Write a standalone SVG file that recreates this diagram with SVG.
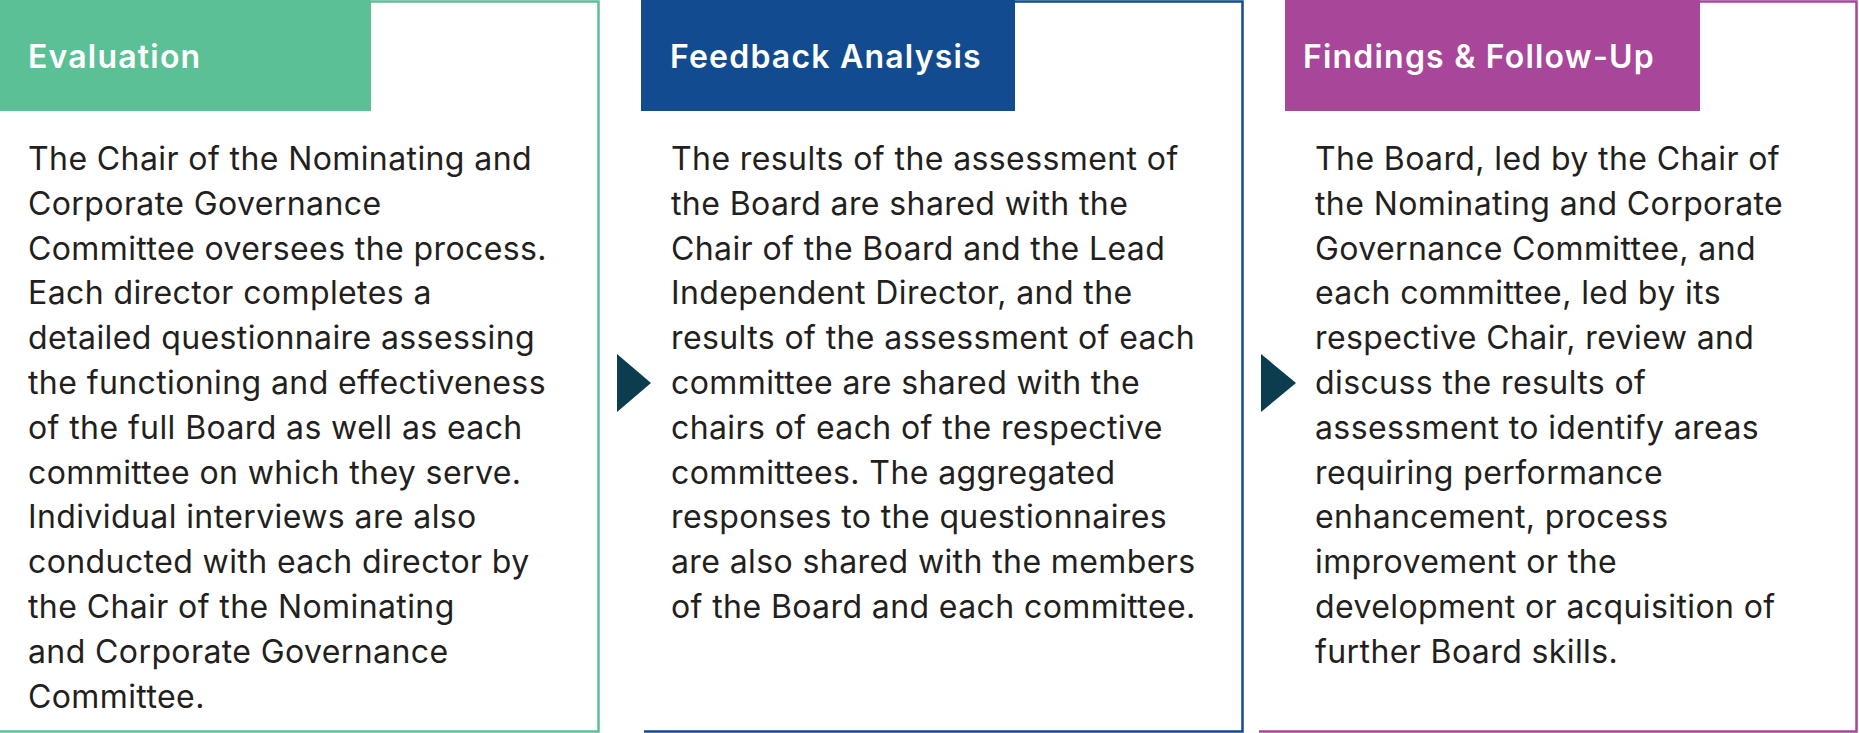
<svg xmlns="http://www.w3.org/2000/svg" width="1859" height="733" viewBox="0 0 1859 733">
<style>
.ttl{font-family:Inter,"Liberation Sans",sans-serif;font-weight:600;font-size:32px;letter-spacing:1.2px;fill:#ffffff}
.body{font-family:Inter,"Liberation Sans",sans-serif;font-weight:400;font-size:32px;letter-spacing:0.4px;fill:#231f20}
.bd{fill:none;stroke-width:2.5}
.arrow{fill:#0b3d4e}
</style>
<rect width="1859" height="733" fill="#ffffff"/>
<g id="evaluation">
<polyline class="bd" stroke="#5bc096" points="371,1.5 598.5,1.5 598.5,731.5 0,731.5"/>
<rect x="0" y="0" width="371" height="111" fill="#5bc096"/>
<text class="ttl" x="28" y="68">Evaluation</text>
<text class="body" x="28" y="170">
<tspan x="28" dy="0">The Chair of the Nominating and</tspan>
<tspan x="28" dy="44.8">Corporate Governance</tspan>
<tspan x="28" dy="44.8">Committee oversees the process.</tspan>
<tspan x="28" dy="44.8">Each director completes a</tspan>
<tspan x="28" dy="44.8">detailed questionnaire assessing</tspan>
<tspan x="28" dy="44.8">the functioning and effectiveness</tspan>
<tspan x="28" dy="44.8">of the full Board as well as each</tspan>
<tspan x="28" dy="44.8">committee on which they serve.</tspan>
<tspan x="28" dy="44.8">Individual interviews are also</tspan>
<tspan x="28" dy="44.8">conducted with each director by</tspan>
<tspan x="28" dy="44.8">the Chair of the Nominating</tspan>
<tspan x="28" dy="44.8">and Corporate Governance</tspan>
<tspan x="28" dy="44.8">Committee.</tspan>
</text>
</g>
<g id="feedback-analysis">
<polyline class="bd" stroke="#124b8f" points="1015,1.5 1242.5,1.5 1242.5,731.5 644,731.5"/>
<rect x="641" y="0" width="374" height="111" fill="#124b8f"/>
<text class="ttl" x="670" y="68">Feedback Analysis</text>
<text class="body" x="671" y="170">
<tspan x="671" dy="0">The results of the assessment of</tspan>
<tspan x="671" dy="44.8">the Board are shared with the</tspan>
<tspan x="671" dy="44.8">Chair of the Board and the Lead</tspan>
<tspan x="671" dy="44.8">Independent Director, and the</tspan>
<tspan x="671" dy="44.8">results of the assessment of each</tspan>
<tspan x="671" dy="44.8">committee are shared with the</tspan>
<tspan x="671" dy="44.8">chairs of each of the respective</tspan>
<tspan x="671" dy="44.8">committees. The aggregated</tspan>
<tspan x="671" dy="44.8">responses to the questionnaires</tspan>
<tspan x="671" dy="44.8">are also shared with the members</tspan>
<tspan x="671" dy="44.8">of the Board and each committee.</tspan>
</text>
</g>
<g id="findings-follow-up">
<polyline class="bd" stroke="#a84699" points="1700,1.5 1856.5,1.5 1856.5,731.5 1259,731.5"/>
<rect x="1285" y="0" width="415" height="111" fill="#a84699"/>
<text class="ttl" x="1303" y="68">Findings &amp; Follow-Up</text>
<text class="body" x="1315" y="170">
<tspan x="1315" dy="0">The Board, led by the Chair of</tspan>
<tspan x="1315" dy="44.8">the Nominating and Corporate</tspan>
<tspan x="1315" dy="44.8">Governance Committee, and</tspan>
<tspan x="1315" dy="44.8">each committee, led by its</tspan>
<tspan x="1315" dy="44.8">respective Chair, review and</tspan>
<tspan x="1315" dy="44.8">discuss the results of</tspan>
<tspan x="1315" dy="44.8">assessment to identify areas</tspan>
<tspan x="1315" dy="44.8">requiring performance</tspan>
<tspan x="1315" dy="44.8">enhancement, process</tspan>
<tspan x="1315" dy="44.8">improvement or the</tspan>
<tspan x="1315" dy="44.8">development or acquisition of</tspan>
<tspan x="1315" dy="44.8">further Board skills.</tspan>
</text>
</g>
<g id="connectors">
<polygon class="arrow" points="617,354 651,383 617,412"/>
<polygon class="arrow" points="1261,354 1296,383 1261,412"/>
</g>
</svg>
